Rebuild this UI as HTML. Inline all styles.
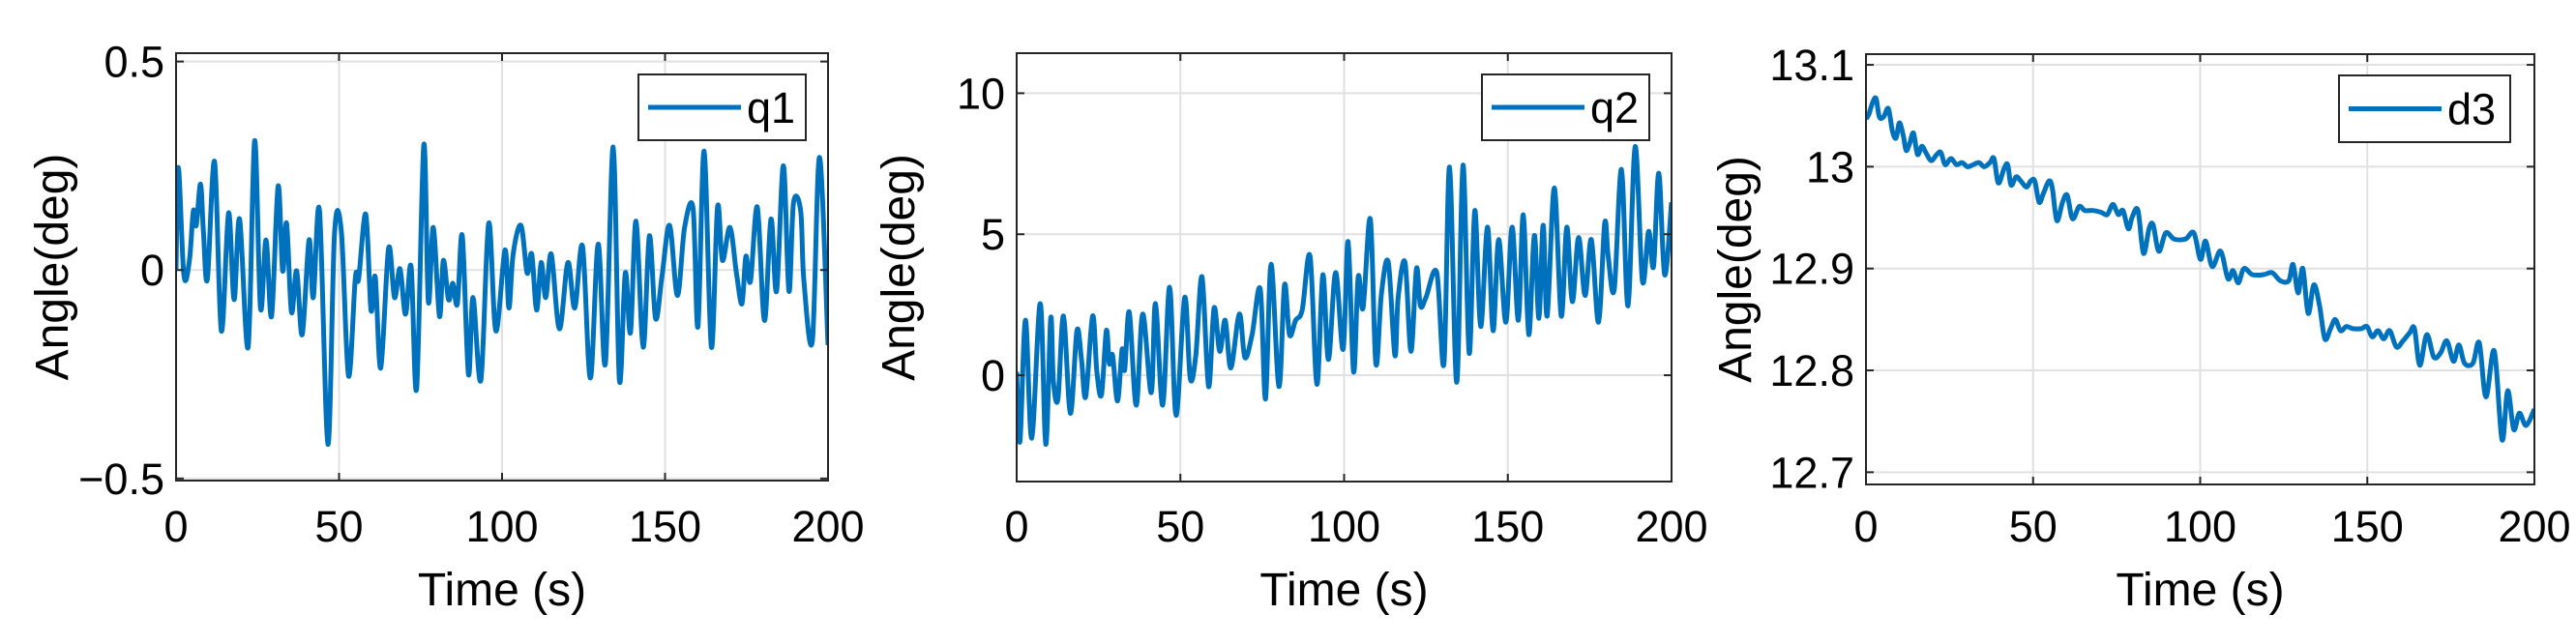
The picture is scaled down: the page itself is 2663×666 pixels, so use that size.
<!DOCTYPE html>
<html><head><meta charset="utf-8">
<style>
html,body{margin:0;padding:0;background:#fff;}
svg{display:block;font-family:"Liberation Sans",Arial,sans-serif;}
</style></head>
<body>
<svg id="fig" width="2663" height="666" viewBox="0 0 2663 666" xmlns="http://www.w3.org/2000/svg"></svg>
<script>
const xTicks = [0, 50, 100, 150, 200];
const q1T = [0,0.7,2.4,4.1,5.3,6.2,7.5,8.4,9.6,11.8,13.9,16.1,17.8,19.5,22.1,24.1,25.9,27.6,29.3,31.3,32.7,33.9,35.4,37.0,38.7,40.8,42.1,44.0,46.6,48.6,50.7,52.9,55.0,56.0,58.2,59.8,61.1,62.8,65.2,67.0,68.7,70.4,72.1,73.8,76.0,77.4,78.9,80.8,82.0,83.6,84.9,86.3,87.8,89.7,91.1,93.5,95.9,98.1,100.9,102.1,103.4,105.8,107.7,109.1,110.6,112.0,113.4,115.1,117.6,120.2,122.3,124.7,127.1,129.5,131.7,134.1,136.0,137.8,139.4,141.1,143.3,145.2,147.1,149.1,151.4,153.8,156.0,158.6,160.1,162.0,164.2,166.1,167.6,169.9,171.9,173.6,174.8,176.2,178.3,180.5,182.5,184.2,186.3,188.0,189.4,191.6,192.6,195.2,197.4,200];
const q1V = [0.003,0.246,-0.012,0.023,0.142,0.107,0.206,0.092,-0.022,0.26,-0.146,0.137,-0.071,0.122,-0.185,0.31,-0.091,0.072,-0.111,0.201,-0.002,0.112,-0.101,-0.002,-0.155,0.072,-0.066,0.142,-0.418,0.087,0.092,-0.254,-0.017,-0.022,0.134,-0.096,-0.017,-0.235,0.052,-0.066,0.003,-0.106,0.008,-0.284,0.3,-0.076,0.102,-0.111,0.023,-0.071,-0.032,-0.081,0.082,-0.25,-0.066,-0.264,0.112,-0.146,0.048,-0.091,0.038,0.107,-0.007,0.038,-0.096,0.018,-0.066,0.038,-0.141,0.018,-0.091,0.057,-0.259,0.062,-0.225,0.295,-0.264,-0.007,-0.15,0.117,-0.185,0.082,-0.116,-0.012,0.107,-0.061,0.102,0.147,-0.136,0.285,-0.185,0.151,0.023,0.102,-0.007,-0.081,0.033,-0.027,0.151,-0.121,0.122,-0.051,0.25,-0.051,0.161,0.142,-0.027,-0.17,0.27,-0.18];
const q2T = [0,1.0,2.7,4.6,7.2,8.9,10.4,11.2,12.6,14.3,16.4,18.4,19.8,21.1,23.2,24.5,25.9,27.4,28.3,29.3,30.8,32.2,33.0,34.4,36.5,38.5,41.1,42.4,44.6,46.7,48.7,51.3,53.0,54.7,56.6,58.6,60.3,62.0,63.7,65.4,68.0,69.7,71.9,74.4,76.0,77.7,80.1,81.8,83.3,85.2,87.2,89.6,91.7,93.5,95.2,97.4,99.7,101.2,102.9,104.3,105.8,108.0,109.7,111.4,113.5,115.5,116.5,118.6,120.4,122.1,123.3,125.0,128.3,130.5,132.2,134.4,136.3,138.2,139.9,141.7,143.8,145.5,147.2,149.4,151.3,153.2,154.7,156.4,158.1,159.5,160.8,162.0,164.2,166.3,168.0,169.7,171.6,173.6,175.5,177.7,179.6,180.7,182.5,184.7,186.7,188.9,191.1,193.0,194.5,196.1,197.9,200];
const q2V = [0.12,-2.35,1.95,-2.23,2.54,-2.45,2.02,-0.18,-0.84,2.10,-1.35,1.58,0.56,-0.76,2.10,0.12,-0.69,1.58,0.41,0.70,-0.91,0.92,0.19,2.24,-1.06,2.17,-0.62,2.54,-1.06,3.12,-1.42,2.76,-0.10,0.70,3.49,-0.40,2.39,0.85,1.95,0.26,2.17,0.63,1.44,3.05,-0.84,3.93,-0.40,3.20,1.44,1.95,2.32,4.22,-0.32,3.56,0.56,3.64,0.92,4.74,0.12,3.49,2.39,5.54,0.41,2.90,4.00,0.70,2.76,4.00,0.85,3.78,2.46,2.76,3.64,0.41,7.38,-0.25,7.45,0.78,5.84,1.73,5.25,1.58,4.81,1.88,5.25,1.95,5.69,1.44,4.96,2.02,5.32,2.10,6.64,2.10,5.25,2.61,4.88,2.83,4.81,1.88,5.40,4.15,3.05,7.30,2.46,8.11,3.34,5.10,3.86,7.16,3.56,6.13];
const d3T = [0,0.8,2.0,3.0,4.0,5.3,6.7,7.9,9.0,10.0,11.2,12.0,13.0,14.2,15.4,16.7,17.9,19.5,21.2,22.4,23.7,25.4,27.1,28.7,30.4,32.1,33.8,35.4,37.1,38.3,39.6,41.3,42.4,43.4,44.9,46.3,48.0,49.3,50.5,51.8,53.1,54.8,55.8,57.1,58.8,60.2,61.8,63.8,65.5,68.0,70.5,72.2,73.9,75.5,76.9,78.5,79.7,81.4,83.0,84.7,85.9,87.6,89.7,92.2,95.6,98.1,100.1,101.6,103.6,106.1,108.3,109.8,111.4,113.1,115.6,119.0,121.5,124.0,126.5,127.8,129.3,130.7,132.3,134.0,135.7,137.3,139.0,140.4,142.0,143.7,145.7,148.2,149.9,151.5,153.2,154.9,156.7,158.7,160.7,162.7,164.1,165.7,167.8,169.9,171.9,173.8,175.8,177.4,179.1,181.6,183.5,185.5,188.0,190.3,192.0,193.8,195.5,197.5,200];
const d3V = [13.047,13.051,13.063,13.067,13.049,13.049,13.057,13.035,13.028,13.043,13.030,13.016,13.022,13.033,13.012,13.020,13.014,13.006,13.012,13.014,13.002,13.008,13.002,13.004,13.000,13.002,13.004,13.000,13.004,13.008,12.984,12.998,13.002,12.982,12.990,12.986,12.980,12.986,12.986,12.965,12.974,12.986,12.978,12.947,12.965,12.972,12.949,12.961,12.957,12.957,12.955,12.953,12.963,12.953,12.957,12.939,12.951,12.957,12.915,12.939,12.943,12.917,12.935,12.929,12.929,12.935,12.909,12.927,12.902,12.917,12.890,12.898,12.886,12.900,12.894,12.894,12.896,12.888,12.888,12.904,12.876,12.900,12.856,12.884,12.864,12.831,12.841,12.850,12.839,12.843,12.841,12.841,12.843,12.833,12.839,12.831,12.839,12.823,12.829,12.837,12.841,12.805,12.835,12.813,12.817,12.829,12.809,12.825,12.807,12.807,12.827,12.774,12.819,12.732,12.780,12.742,12.758,12.746,12.762];
const yTicks1 = [-0.5, 0, 0.5], yLab1 = ["\u22120.5", "0", "0.5"];
const yTicks2 = [0, 5, 10], yLab2 = ["0", "5", "10"];
const yTicks3 = [12.7, 12.8, 12.9, 13, 13.1], yLab3 = ["12.7", "12.8", "12.9", "13", "13.1"];

const NS = "http://www.w3.org/2000/svg";
const fig = document.getElementById('fig');
function mk(tag, attrs, parent, txt) {
  const e = document.createElementNS(NS, tag);
  for (const k in attrs) e.setAttribute(k, attrs[k]);
  if (txt !== undefined) e.textContent = txt;
  parent.appendChild(e);
  return e;
}
function smoothPath(pts) {
  let d = "M" + pts[0][0].toFixed(1) + "," + pts[0][1].toFixed(1);
  for (let i = 0; i < pts.length - 1; i++) {
    const p0 = pts[Math.max(0, i - 1)], p1 = pts[i], p2 = pts[i + 1], p3 = pts[Math.min(pts.length - 1, i + 2)];
    const c1x = p1[0] + (p2[0] - p0[0]) / 6, c1y = p1[1] + (p2[1] - p0[1]) / 6;
    const c2x = p2[0] - (p3[0] - p1[0]) / 6, c2y = p2[1] - (p3[1] - p1[1]) / 6;
    d += "C" + c1x.toFixed(1) + "," + c1y.toFixed(1) + " " + c2x.toFixed(1) + "," + c2y.toFixed(1) + " " + p2[0].toFixed(1) + "," + p2[1].toFixed(1);
  }
  return d;
}
function panel(id, L, R, T, B, ymin, ymax, yt, yl, ts, vs, name, leg, ylabX) {
  const g = mk('g', {}, fig);
  
  
  const sx = t => L + (t - 0) / 200 * (R - L);
  const sy = v => B - (v - ymin) / (ymax - ymin) * (B - T);
  // grid
  xTicks.forEach(t => {
    const l = mk('line', {x1: sx(t), x2: sx(t), y1: T, y2: B, stroke: '#e1e1e1', 'stroke-width': 2}, g);
    
    
  });
  yt.forEach(v => {
    const l = mk('line', {x1: L, x2: R, y1: sy(v), y2: sy(v), stroke: '#e1e1e1', 'stroke-width': 2}, g);
    
    
  });
  // series
  const clipId = id + '-clip';
  const cp = mk('clipPath', {id: clipId}, g);
  mk('rect', {x: L, y: T, width: R - L, height: B - T}, cp);
  const pts = ts.map((t, i) => [sx(t), sy(vs[i])]);
  const p = mk('path', {d: smoothPath(pts), fill: 'none', stroke: '#0072BD', 'stroke-width': 5, 'stroke-linejoin': 'round', 'clip-path': 'url(#' + clipId + ')'}, g);
  
  
  // box
  const bx = mk('rect', {x: L, y: T, width: R - L, height: B - T, fill: 'none', stroke: '#262626', 'stroke-width': 2}, g);
  
  
  // ticks + labels
  xTicks.forEach(t => {
    mk('line', {x1: sx(t), x2: sx(t), y1: B, y2: B - 8, stroke: '#262626', 'stroke-width': 2}, g);
    mk('line', {x1: sx(t), x2: sx(t), y1: T, y2: T + 8, stroke: '#262626', 'stroke-width': 2}, g);
    const tx = mk('text', {x: sx(t), y: 560, 'font-size': 45, 'text-anchor': 'middle', fill: '#000'}, g, String(t));
    
    
  });
  yt.forEach((v, i) => {
    mk('line', {x1: L, x2: L + 8, y1: sy(v), y2: sy(v), stroke: '#262626', 'stroke-width': 2}, g);
    mk('line', {x1: R, x2: R - 8, y1: sy(v), y2: sy(v), stroke: '#262626', 'stroke-width': 2}, g);
    const tx = mk('text', {x: L - 12, y: sy(v) + 16, 'font-size': 45, 'text-anchor': 'end', fill: '#000'}, g, yl[i]);
    
    
  });
  const xl = mk('text', {x: (L + R) / 2, y: 626, 'font-size': 48, 'text-anchor': 'middle', fill: '#000'}, g, 'Time (s)');
  
  
  const cy = (T + B) / 2;
  const yla = mk('text', {x: ylabX, y: cy, 'font-size': 48, 'text-anchor': 'middle', fill: '#000', transform: 'rotate(-90 ' + ylabX + ' ' + cy + ')'}, g, 'Angle(deg)');
  
  
  // legend
  const lg = mk('g', {}, g);
  
  
  mk('rect', {x: leg[0], y: leg[1], width: leg[2] - leg[0], height: leg[3] - leg[1], fill: '#fff', stroke: '#262626', 'stroke-width': 2}, lg);
  const my = (leg[1] + leg[3]) / 2;
  mk('line', {x1: leg[0] + 10, x2: leg[0] + 106, y1: my, y2: my, stroke: '#0072BD', 'stroke-width': 5}, lg);
  const lt = mk('text', {x: leg[0] + 112, y: my + 16, 'font-size': 45, fill: '#000'}, lg, name);
  
  
}
panel('panel-q1', 182, 856, 55, 497, -0.505, 0.52, yTicks1, yLab1, q1T, q1V, 'q1', [660, 77, 833, 145], 70);
panel('panel-q2', 1051, 1728, 55, 498, -3.77, 11.42, yTicks2, yLab2, q2T, q2V, 'q2', [1532, 77, 1705, 145], 945);
panel('panel-d3', 1929, 2620, 56, 501, 12.688, 13.1105, yTicks3, yLab3, d3T, d3V, 'd3', [2418, 78, 2595, 147], 1810);
</script>
</body></html>
